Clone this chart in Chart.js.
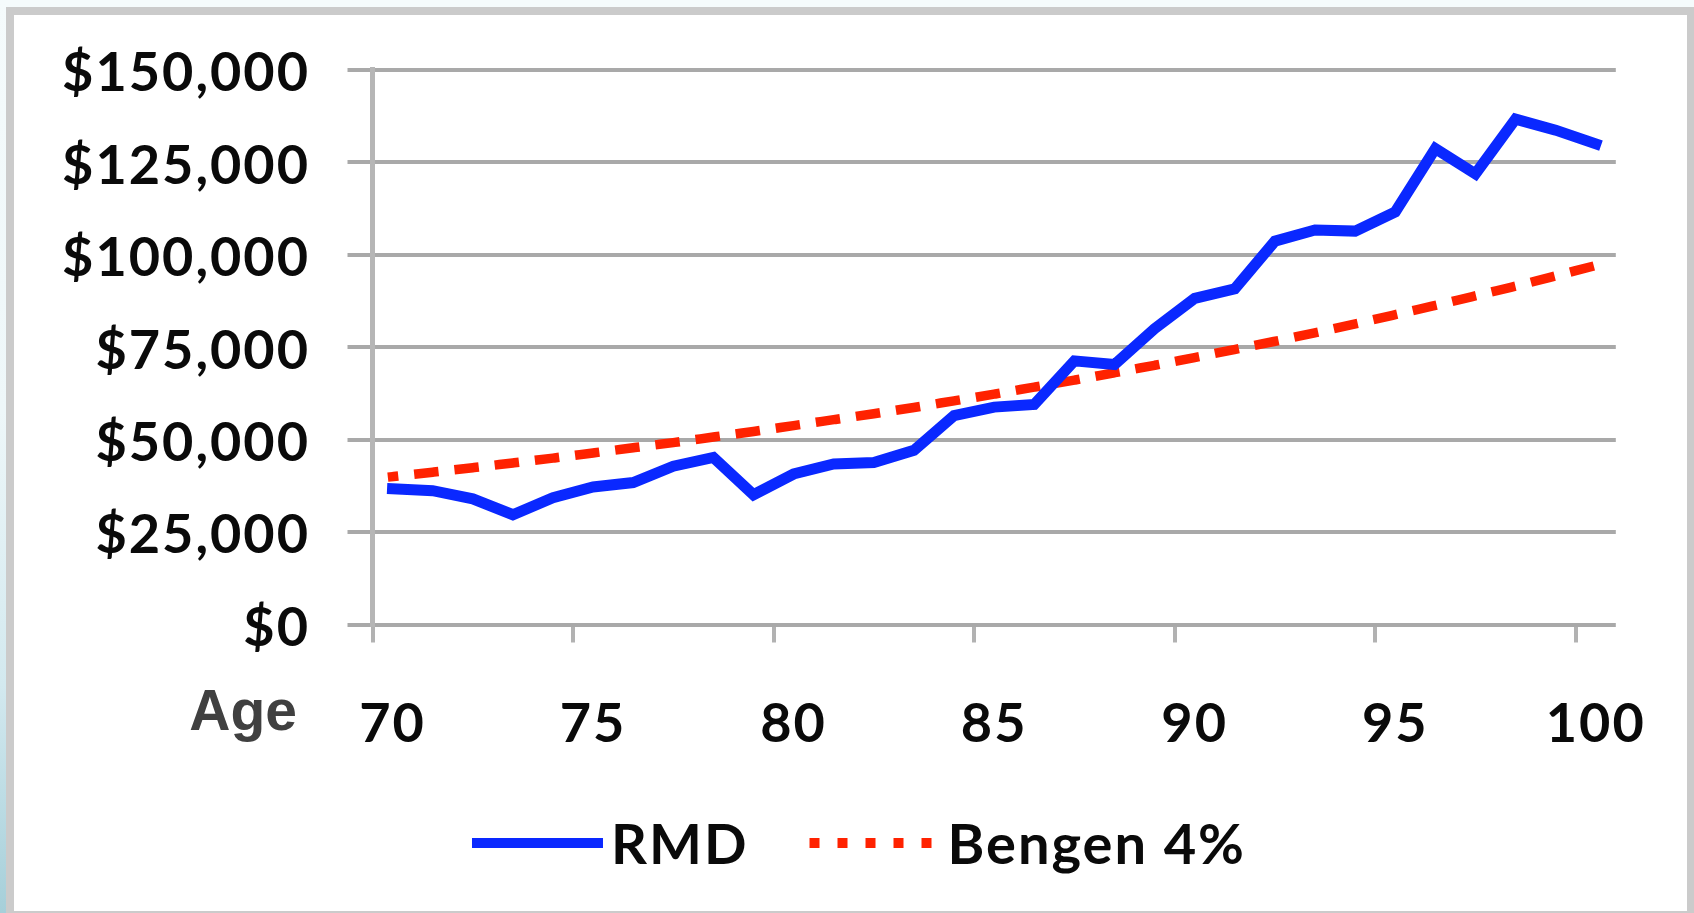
<!DOCTYPE html>
<html>
<head>
<meta charset="utf-8">
<title>RMD vs Bengen 4% withdrawals by age</title>
<script src="https://cdn.jsdelivr.net/npm/chart.js@4.4.1/dist/chart.umd.min.js"></script>
<style>
  html, body { margin: 0; padding: 0; }
  body { width: 1694px; height: 913px; overflow: hidden; position: relative; background: #f5fbfc; }
  #edge { position: absolute; left: 0; top: 0; width: 6px; height: 913px;
          background: linear-gradient(to bottom, #f5fbfc 0%, #eef7f9 45%, #d3e9ef 75%, #a6cfd9 100%); }
  #frame { position: absolute; left: 6px; top: 7px; width: 1673px; height: 896px;
           border: 8px solid #cbcbcb; border-right-width: 7px; background: #ffffff; }
  #chart { position: absolute; left: 0; top: 0; width: 1694px; height: 913px; }
</style>
</head>
<body>
<div id="edge"></div>
<div id="frame"></div>
<canvas id="chart" width="1694" height="913"></canvas>
<script>
// Ages on the horizontal axis
const ages = [70, 71, 72, 73, 74, 75, 76, 77, 78, 79, 80, 81, 82, 83, 84, 85,
              86, 87, 88, 89, 90, 91, 92, 93, 94, 95, 96, 97, 98, 99, 100];

// Required minimum distribution withdrawal at each age ($)
const rmdWithdrawals = [36700, 36200, 34000, 29700, 34300, 37200, 38400, 42800, 45200, 35100,
                        40700, 43400, 43800, 47100, 56500, 58800, 59500, 71300, 70300, 80000,
                        88200, 90800, 103700, 106700, 106400, 111600, 128700, 121900, 136700, 133700,
                        130000];

// Bengen 4% rule withdrawal at each age ($)
const bengenWithdrawals = [40000, 41200, 42400, 43700, 45000, 46400, 47800, 49200, 50700, 52200,
                           53800, 55400, 57000, 58700, 60500, 62300, 64200, 66100, 68100, 70100,
                           72200, 74400, 76600, 78900, 81300, 83800, 86300, 88900, 91500, 94300,
                           97100];

// Labelled ages and dollar gridlines
const ageTickLabels = [70, 75, 80, 85, 90, 95, 100];
const dollarTicks = [0, 25000, 50000, 75000, 100000, 125000, 150000];

const seriesNames = ['RMD', 'Bengen 4%'];
const axisTitle = 'Age';

const TICK_FONT = { family: 'Lato', size: 54, weight: 'bold' };
const TEXT_COLOR = '#0a0a0a';
const LETTER_SPACING = '2px';

// Slightly wider lettering for every label on the canvas
const spacedText = {
  id: 'spacedText',
  beforeDraw(chart) { chart.ctx.letterSpacing = LETTER_SPACING; }
};

// "Age" caption to the left of the age labels
const ageCaption = {
  id: 'ageCaption',
  afterDraw(chart) {
    const { ctx, chartArea } = chart;
    ctx.save();
    ctx.letterSpacing = '0px';
    ctx.font = 'bold 57px "Liberation Sans", Arial, sans-serif';
    ctx.fillStyle = '#404040';
    ctx.textAlign = 'right';
    ctx.textBaseline = 'alphabetic';
    ctx.fillText(axisTitle, chartArea.left - 75.5, chartArea.bottom + 105.5);
    ctx.restore();
  }
};

// Series key below the plot: line sample followed by the series name
const lineKey = {
  id: 'lineKey',
  afterDraw(chart, args, opts) {
    const ctx = chart.ctx;
    ctx.save();
    ctx.letterSpacing = LETTER_SPACING;
    ctx.font = opts.font;
    const items = chart.data.datasets.map((ds, i) => ({
      ds,
      style: opts.items[i],
      textWidth: ctx.measureText(ds.label).width
    }));
    const total = items.reduce((sum, it) => sum + it.style.sample + it.style.gap + it.textWidth, 0)
                + opts.spacing * (items.length - 1);
    let x = opts.center - total / 2;
    items.forEach(it => {
      ctx.beginPath();
      ctx.strokeStyle = it.ds.borderColor;
      ctx.lineWidth = opts.lineWidth;
      ctx.lineCap = 'butt';
      ctx.setLineDash(it.style.dash);
      ctx.moveTo(x, opts.lineY);
      ctx.lineTo(x + it.style.sample, opts.lineY);
      ctx.stroke();
      ctx.setLineDash([]);
      x += it.style.sample + it.style.gap;
      ctx.fillStyle = TEXT_COLOR;
      ctx.textAlign = 'left';
      ctx.textBaseline = 'alphabetic';
      ctx.fillText(it.ds.label, x, opts.baseline);
      x += it.textWidth + opts.spacing;
    });
    ctx.restore();
  }
};

new Chart(document.getElementById('chart'), {
  type: 'line',
  data: {
    labels: ages,
    datasets: [
      {
        label: seriesNames[0],
        data: rmdWithdrawals,
        borderColor: '#0a28ff',
        borderWidth: 11,
        borderCapStyle: 'square',
        borderJoinStyle: 'miter',
        pointRadius: 0,
        tension: 0,
        fill: false
      },
      {
        label: seriesNames[1],
        data: bengenWithdrawals,
        borderColor: '#ff2200',
        borderWidth: 9.5,
        borderDash: [15, 25.5],
        borderDashOffset: 14,
        borderCapStyle: 'square',
        pointRadius: 0,
        tension: 0,
        fill: false
      }
    ]
  },
  options: {
    responsive: false,
    animation: false,
    devicePixelRatio: 1,
    layout: { padding: { left: 20, right: 78, top: 67.5, bottom: 138.5 } },
    plugins: {
      legend: { display: false },
      tooltip: { enabled: false },
      lineKey: {
        font: 'bold 56px Lato, sans-serif',
        lineWidth: 10,
        items: [
          { sample: 131, gap: 8, dash: [] },
          { sample: 122, gap: 16, dash: [10, 18] }
        ],
        spacing: 61,
        center: 859,
        lineY: 843,
        baseline: 864
      }
    },
    scales: {
      x: {
        type: 'category',
        offset: true,
        grid: {
          offset: true,
          drawOnChartArea: false,
          drawTicks: true,
          tickLength: 18,
          lineWidth: 4,
          color: c => (c.tick && c.tick.label !== '') ? '#b2b2b2' : 'rgba(0,0,0,0)'
        },
        border: { display: false },
        ticks: {
          autoSkip: false,
          maxRotation: 0,
          minRotation: 0,
          padding: 50,
          color: TEXT_COLOR,
          font: TICK_FONT,
          callback: (v, i) => ageTickLabels.includes(ages[i]) ? String(ages[i]) : ''
        },
        afterFit: s => { s.height = 150; }
      },
      y: {
        min: 0,
        max: 150000,
        afterBuildTicks: s => { s.ticks = dollarTicks.map(v => ({ value: v })); },
        grid: { color: '#a9a9a9', lineWidth: 4, tickLength: 25, drawTicks: true },
        border: { display: true, color: '#b6b6b6', width: 5 },
        ticks: {
          padding: 37.5,
          labelOffset: 4,
          color: TEXT_COLOR,
          font: TICK_FONT,
          callback: v => '$' + Number(v).toLocaleString('en-US')
        },
        afterFit: s => { s.width = 352.5; }
      }
    }
  },
  plugins: [spacedText, ageCaption, lineKey]
});
</script>
</body>
</html>
